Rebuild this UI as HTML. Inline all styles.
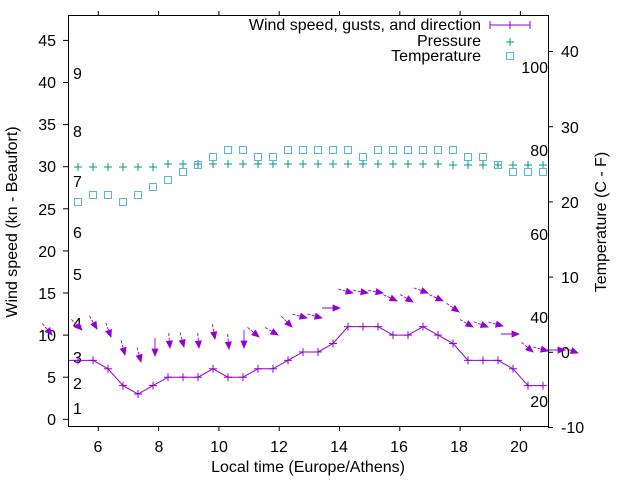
<!DOCTYPE html>
<html><head><meta charset="utf-8"><style>
html,body{margin:0;padding:0;background:#fff;}
svg{display:block;font-family:"Liberation Sans",sans-serif;font-size:16px;}
</style></head><body>
<svg id="s" width="640" height="480" viewBox="0 0 640 480">
<rect x="0" y="0" width="640" height="480" fill="#fff"/>
<g id="ticks" stroke="#000" stroke-width="1"></g>
<g fill="#000" text-anchor="end">
<text x="56" y="425">0</text><text x="56" y="383">5</text><text x="56" y="341">10</text><text x="56" y="299">15</text><text x="56" y="257">20</text><text x="56" y="215">25</text><text x="56" y="172">30</text><text x="56" y="130">35</text><text x="56" y="88">40</text><text x="56" y="46">45</text>
</g>
<g fill="#000" text-anchor="start">
<text x="561" y="433">-10</text><text x="561" y="358">0</text><text x="561" y="283">10</text><text x="561" y="208">20</text><text x="561" y="133">30</text><text x="561" y="57">40</text>
</g>
<g fill="#000" text-anchor="middle">
<text x="98" y="452">6</text><text x="159" y="452">8</text><text x="219" y="452">10</text><text x="279" y="452">12</text><text x="339" y="452">14</text><text x="399" y="452">16</text><text x="459" y="452">18</text><text x="519" y="452">20</text>
<text x="308" y="472">Local time (Europe/Athens)</text>
</g>
<text transform="translate(17,222) rotate(-90)" text-anchor="middle">Wind speed (kn - Beaufort)</text>
<text transform="translate(606,222) rotate(-90)" text-anchor="middle">Temperature (C - F)</text>
<g fill="#000" text-anchor="start">
<text x="73" y="414">1</text><text x="73" y="389">2</text><text x="73" y="363">3</text><text x="73" y="329">4</text><text x="73" y="280">5</text><text x="73" y="238">6</text><text x="73" y="187">7</text><text x="73" y="137">8</text><text x="73" y="79">9</text>
</g>
<g fill="#000" text-anchor="end">
<text x="548" y="407">20</text><text x="548" y="323">40</text><text x="548" y="240">60</text><text x="548" y="156">80</text><text x="548" y="73">100</text>
</g>
<g fill="#000" text-anchor="end">
<text x="481" y="30">Wind speed, gusts, and direction</text>
<text x="481" y="46">Pressure</text>
<text x="481" y="61">Temperature</text>
</g>
<g stroke="#9400d3" stroke-width="1"><line x1="490" y1="25" x2="530" y2="25"/><line x1="490" y1="21" x2="490" y2="29"/><line x1="530" y1="21" x2="530" y2="29"/><line x1="510" y1="21" x2="510" y2="29"/></g>
<g stroke="#009e73" stroke-width="1"><line x1="506" y1="42" x2="514" y2="42"/><line x1="510" y1="38" x2="510" y2="46"/></g>
<rect x="506.5" y="52.5" width="7" height="7" fill="none" stroke="#56b4e9"/>
<g id="data"></g>
<rect x="68.5" y="15.5" width="480" height="411" fill="none" stroke="#000"/>
</svg>
<script>
var NS="http://www.w3.org/2000/svg";
function el(p,t,a){var e=document.createElementNS(NS,t);for(var k in a)e.setAttribute(k,a[k]);p.appendChild(e);return e;}
var T=document.getElementById("ticks"),D=document.getElementById("data");
for(var v=0;v<=45;v+=5){var y=419.3-v*8.42;el(T,"line",{x1:63,x2:68,y1:y,y2:y});}
for(var v=-10;v<=40;v+=10){var y=427.5-(v+10)*7.52;el(T,"line",{x1:548,x2:553,y1:y,y2:y});}
for(var h=6;h<=20;h+=2){var x=98.3+(h-6)*30.15;el(T,"line",{x1:x,x2:x,y1:427,y2:431});el(T,"line",{x1:x,x2:x,y1:11,y2:15});}
var temp=[202,195,195,202,195,187,180,172,165,157,150,150,157,157,150,150,150,150,150,157,150,150,150,150,150,150,157,157,165,172,172,172];
var spd=[7,7,6,4,3,4,5,5,5,6,5,5,6,6,7,8,8,9,11,11,11,10,10,11,10,9,7,7,7,6,4,4];
var pts=[];
for(var i=0;i<32;i++){var x=78+15*i;
 var py=i<6?167:(i<25?164:165);
 el(D,"line",{x1:x-4,x2:x+4,y1:py,y2:py,stroke:"#009e73"});el(D,"line",{x1:x,x2:x,y1:py-4,y2:py+4,stroke:"#009e73"});
 el(D,"rect",{x:x-3.5,y:temp[i]-3.5,width:7,height:7,fill:"none",stroke:"#56b4e9"});
 var sy=419.3-spd[i]*8.42;pts.push(x+","+sy);
 el(D,"line",{x1:x-4,x2:x+4,y1:sy,y2:sy,stroke:"#9400d3"});el(D,"line",{x1:x,x2:x,y1:sy-4,y2:sy+4,stroke:"#9400d3"});
}
el(D,"polyline",{points:"68,360.4 "+pts.join(" "),fill:"none",stroke:"#9400d3"});
var ar=[[52,335,50],[82,330,45],[97,329,60],[111,337,70],[125,355,75],[141,362,75],[155,356,90],[170,348,85],[184,347,75],[199,348,85],[215,339,80],[229,349,85],[244,348,90],[259,337,40],[278,335,30],[292,327,45],[307,318,15],[322,318,15],[340,308,0],[353,293,15],[368,293,10],[383,293,10],[397,301,25],[413,302,30],[428,293,20],[443,301,25],[459,312,35],[473,327,30],[488,327,20],[503,326,15],[519,334,0],[533,352,40],[548,351,15],[565,350,0],[578,353,20]];
ar.forEach(function(a){var r=a[2]*Math.PI/180,c=Math.cos(r),s=Math.sin(r),L=a[2]==0||a[2]==90?18:15;
 var x=a[0],y=a[1];
 el(D,"line",{x1:x-L*c,y1:y-L*s,x2:x,y2:y,stroke:"#9400d3","stroke-width":0.9,"stroke-dasharray":a[2]==0||a[2]==90?"none":"3,1.5"});
 var bx=x-7*c,by=y-7*s,nx=-s*3,ny=c*3;
 el(D,"polygon",{points:x+","+y+" "+(bx+nx)+","+(by+ny)+" "+(bx-nx)+","+(by-ny),fill:"#9400d3",stroke:"#9400d3","stroke-width":0.8});
});
</script>
</body></html>
